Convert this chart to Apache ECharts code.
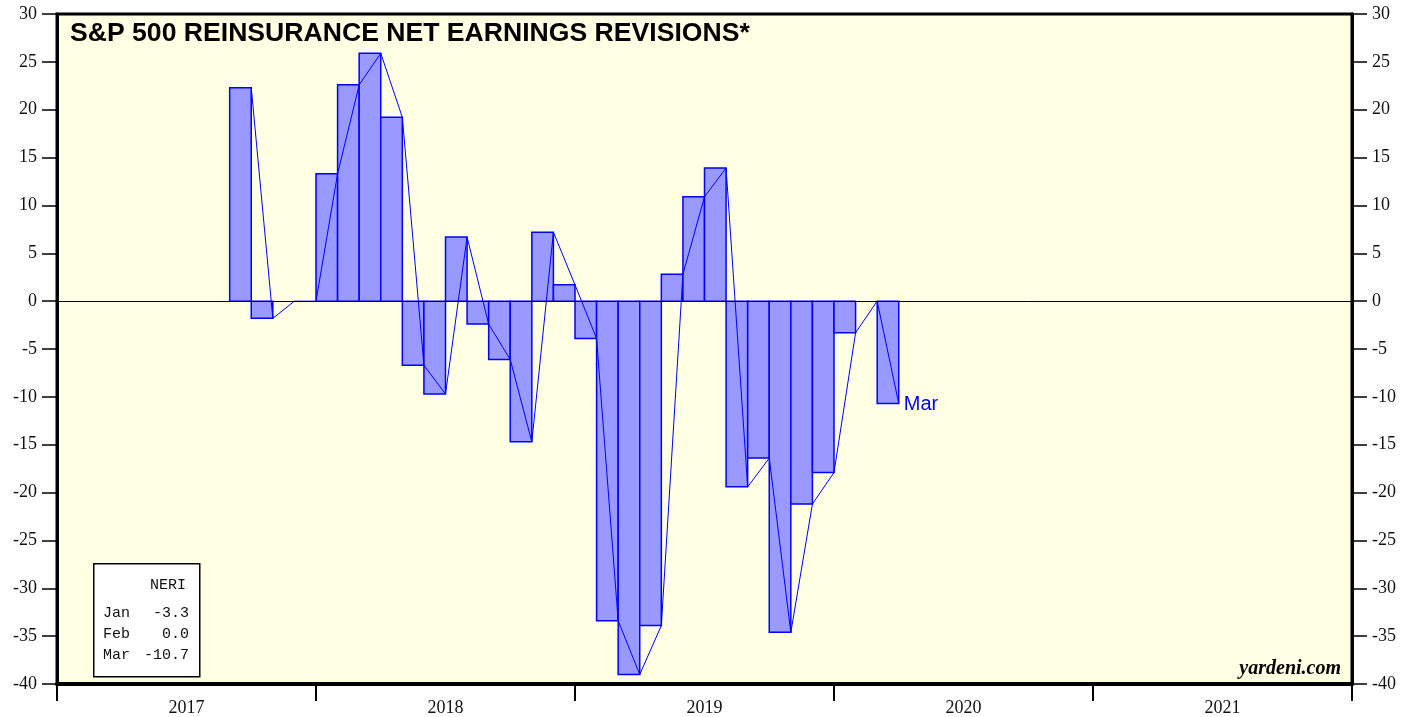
<!DOCTYPE html>
<html>
<head>
<meta charset="utf-8">
<script src="https://cdn.jsdelivr.net/npm/echarts@6/dist/echarts.min.js"></script>
<style>
  html, body { margin: 0; padding: 0; background: #fff; }
  #main { width: 1417px; height: 717px; }
</style>
</head>
<body>
<div id="main"></div>
<script>
var myChart = echarts.init(document.getElementById('main'));

// month index counted from Jan 2017 (0)
var years = ['2017', '2018', '2019', '2020', '2021'];
var months = [8, 9, 10, 11,
    12, 13, 14, 15, 16, 17, 18, 19, 20, 21, 22, 23,
    24, 25, 26, 27, 28, 29, 30, 31, 32, 33, 34, 35,
    36, 37, 38];
var neri = [22.3, -1.8, 0, 0,
    13.3, 22.6, 25.9, 19.2, -6.7, -9.7, 6.7, -2.4, -6.1, -14.7, 7.2, 1.7,
    -3.9, -33.4, -39.0, -33.9, 2.8, 10.9, 13.9, -19.4, -16.4, -34.6, -21.2, -17.9,
    -3.3, 0.0, -10.7];
var boxRows = [['Jan', '-3.3'], ['Feb', '0.0'], ['Mar', '-10.7']];

var barData = months.map(function(m, i) { return [m, neri[i]]; });
// line points sit at the end of each month
var lineData = months.map(function(m, i) { return [m + 1, neri[i]]; });

var serif = '"Liberation Serif", "DejaVu Serif", serif';
var sans = '"Liberation Sans", Arial, sans-serif';
var mono = '"Liberation Mono", "DejaVu Sans Mono", monospace';

var yAxisBase = {
    type: 'value',
    min: -40,
    max: 30,
    interval: 5,
    axisLine: { show: true, onZero: false, lineStyle: { color: '#000', width: 3 } },
    axisTick: { show: true, inside: false, length: 15, lineStyle: { color: '#000', width: 1.5 } },
    axisLabel: { color: '#111', fontFamily: serif, fontSize: 18, margin: 20 },
    splitLine: { show: false }
};

var boxGraphics = [{
    type: 'rect',
    left: 93, top: 563,
    shape: { width: 106, height: 113 },
    style: { fill: '#fff', stroke: '#000', lineWidth: 1.5 },
    z: 100
}, {
    type: 'text',
    left: 150, top: 578,
    style: { text: 'NERI', font: '15px ' + mono, fill: '#111' },
    z: 101
}];
boxRows.forEach(function(r, i) {
    boxGraphics.push({
        type: 'text',
        left: 103, top: 606 + i * 21,
        style: { text: r[0], font: '15px ' + mono, fill: '#111' },
        z: 101
    });
    boxGraphics.push({
        type: 'text',
        right: 1417 - 189, top: 606 + i * 21,
        style: { text: r[1], font: '15px ' + mono, fill: '#111', align: 'right' },
        z: 101
    });
});

option = {
    backgroundColor: '#fff',
    animation: false,
    grid: {
        left: 57, right: 65, top: 14, bottom: 30,
        show: true,
        backgroundColor: '#FFFFE3',
        borderColor: '#000',
        borderWidth: 3
    },
    xAxis: [{
        type: 'category',
        data: years,
        position: 'bottom',
        boundaryGap: true,
        axisLine: { show: true, onZero: false, lineStyle: { color: '#000', width: 4 } },
        axisTick: { show: true, inside: false, interval: 0, length: 17, alignWithLabel: false, lineStyle: { color: '#000', width: 2 } },
        axisLabel: { color: '#111', fontFamily: serif, fontSize: 18, margin: 15, interval: 0 },
        splitLine: { show: false }
    }, {
        type: 'value',
        min: 0,
        max: 60,
        show: false,
        axisLine: { onZero: false }
    }],
    yAxis: [
        Object.assign({}, yAxisBase, { position: 'left' }),
        Object.assign({}, yAxisBase, { position: 'right' })
    ],
    graphic: [{
        type: 'text',
        left: 70, top: 20,
        style: { text: 'S&P 500 REINSURANCE NET EARNINGS REVISIONS*', font: 'bold 26.6px ' + sans, fill: '#000' },
        z: 100
    }, {
        type: 'text',
        right: 76, top: 659,
        style: { text: 'yardeni.com', font: 'italic bold 20px ' + serif, fill: '#000' },
        z: 100
    }].concat(boxGraphics),
    series: [{
        name: 'NERI bars',
        type: 'custom',
        xAxisIndex: 1,
        yAxisIndex: 0,
        data: barData,
        renderItem: function(params, api) {
            var m = api.value(0);
            var v = api.value(1);
            if (v === 0) return;
            var p0 = api.coord([m, v]);
            var p1 = api.coord([m + 1, 0]);
            return {
                type: 'rect',
                shape: {
                    x: Math.min(p0[0], p1[0]),
                    y: Math.min(p0[1], p1[1]),
                    width: Math.abs(p1[0] - p0[0]),
                    height: Math.abs(p1[1] - p0[1])
                },
                style: { fill: '#9999FF', stroke: '#0000FF', lineWidth: 1.5 }
            };
        },
        z: 2
    }, {
        name: 'NERI',
        type: 'line',
        xAxisIndex: 1,
        yAxisIndex: 0,
        data: lineData,
        symbol: 'none',
        lineStyle: { color: '#0000FF', width: 1 },
        endLabel: {
            show: true,
            formatter: 'Mar',
            color: '#0000FF',
            fontFamily: sans,
            fontSize: 20,
            offset: [-3, 1]
        },
        markLine: {
            silent: true,
            symbol: 'none',
            label: { show: false },
            lineStyle: { color: '#000', width: 1, type: 'solid' },
            data: [{ yAxis: 0 }]
        },
        z: 3
    }]
};

myChart.setOption(option);
</script>
</body>
</html>
